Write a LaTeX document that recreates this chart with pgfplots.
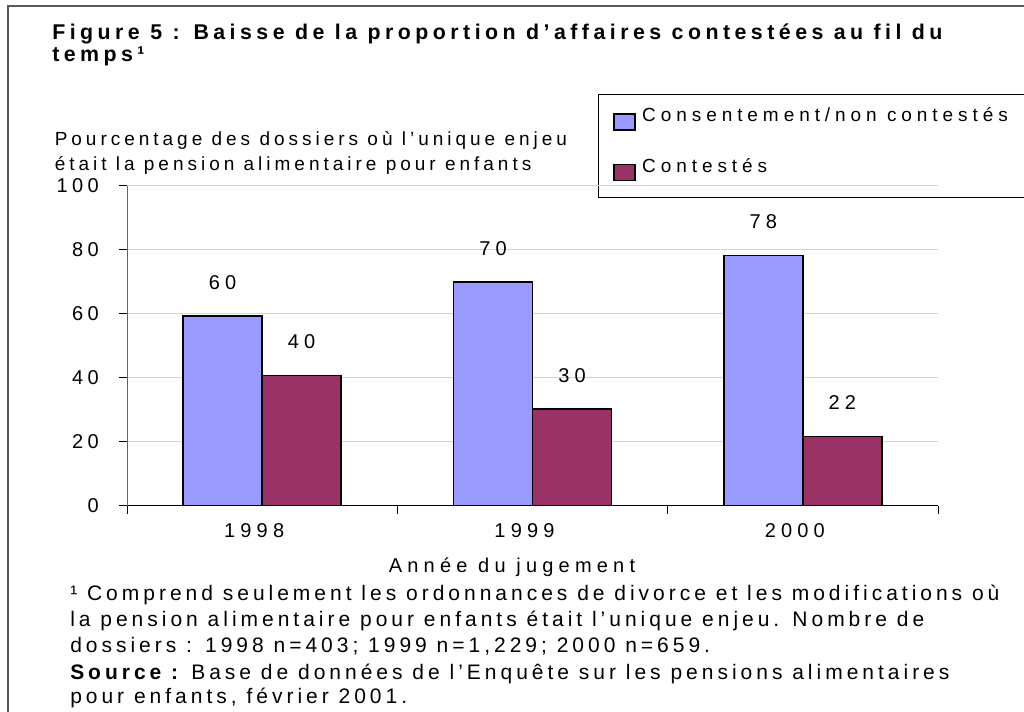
\documentclass[border=0pt]{standalone}
\usepackage{fontspec}
\setmainfont{Liberation Sans}
\newfontfamily\titlef[LetterSpace=21]{Liberation Sans}
\newfontfamily\legf[LetterSpace=26]{Liberation Sans}
\newfontfamily\tickf[LetterSpace=26]{Liberation Sans}
\newfontfamily\ytickf[LetterSpace=22]{Liberation Sans}
\newfontfamily\ylabf[LetterSpace=21]{Liberation Sans}
\newfontfamily\footf[LetterSpace=19]{Liberation Sans}
\usepackage{pgfplots}
\pgfplotsset{compat=1.18}
\definecolor{cblue}{RGB}{153,153,255}
\definecolor{cred}{RGB}{153,51,102}
\newcommand\ttl{\titlef\bfseries\fontsize{16}{16}\selectfont}
\newcommand\lgt{\legf\fontsize{14.25}{17}\selectfont}
\newcommand\tkt{\tickf\fontsize{15}{18}\selectfont}
\newcommand\ytkt{\ytickf\fontsize{15}{18}\selectfont}
\newcommand\ylt{\ylabf\fontsize{14.25}{18.75}\selectfont}
\newcommand\ftt{\footf\fontsize{15.75}{19.5}\selectfont}

\begin{document}
\begin{tikzpicture}[x=0.75pt,y=0.75pt]
\path[use as bounding box] (0,0) rectangle (1024,712);
% outer frame (left and top sides visible)
\draw[black!65, line width=1.1pt] (8,-5) -- (8,706) -- (1030,706);
% legend frame
\draw[black, line width=0.75pt] (1030,617) -- (598,617) -- (598,514) -- (1030,514);
% title
\node[anchor=base west, inner sep=0pt, font=\ttl] at (52,672) {Figure 5 : Baisse de la proportion d’affaires contestées au fil du};
\node[anchor=base west, inner sep=0pt, font=\ttl] at (52,650) {temps¹};

\begin{axis}[
  at={(95.25pt,154.725pt)}, anchor=south west,
  scale only axis, width=608.25pt, height=239.8pt,
  xmin=-0.5, xmax=2.5, ymin=0, ymax=100,
  clip=false,
  ybar=0pt, bar width=59.25pt,
  axis x line*=bottom, axis y line*=left,
  x axis line style={black, line width=0.75pt, -},
  y axis line style={black!60, line width=0.75pt, -},
  xtick={-0.5,0.5,1.5,2.5}, xticklabels={},
  extra x ticks={0,1,2}, extra x tick labels={1998,1999,2000},
  extra x tick style={major tick length=0pt,
    xticklabel style={anchor=base, yshift=-24pt, xshift=-6pt, font=\tkt}},
  ytick={0,20,40,60,80,100},
  ymajorgrids, grid style={black!17, line width=0.75pt},
  tick align=outside, major tick length=6pt,
  tick style={black, line width=0.75pt},
  yticklabel style={anchor=east, inner sep=0pt, xshift=-15pt, font=\ytkt},
  /pgf/number format/assume math mode=true,
  every axis x label/.style={at={(axis description cs:0.4747,0)}, anchor=base, yshift=-50.25pt, font=\tkt},
  every axis y label/.style={at={(axis description cs:-0.0949,1.047)}, anchor=base west, align=left, font=\ylt},
  xlabel={Année du jugement},
  ylabel={Pourcentage des dossiers où l’unique enjeu\\était la pension alimentaire pour enfants},
  legend style={at={(axis description cs:0.5993,1.244)}, anchor=north west,
    draw=none, fill=none, inner sep=0pt, outer sep=0pt,
    row sep=21pt, font=\lgt,
    nodes={inner sep=0pt, text height=10.5pt, text depth=3pt},
    /tikz/every odd column/.append style={column sep=5pt}},
  legend cell align=left,
  point meta=explicit symbolic,
  nodes near coords,
  every node near coord/.append style={font=\tkt, anchor=base, inner sep=0pt, yshift=20.25pt, text=black},
]
\addplot[fill=cblue, draw=black, line width=1.1pt,
  legend image code/.code={\draw[fill=cblue, draw=black, line width=1.1pt] (0pt,-9.75pt) rectangle (15.75pt,2.25pt);}]
  coordinates {(0,59.3) [60] (1,69.9) [70] (2,78.3) [78]};
\addlegendentry{Consentement/non contestés}
\addplot[fill=cred, draw=black, line width=1.1pt,
  legend image code/.code={\draw[fill=cred, draw=black, line width=1.1pt] (0pt,-9.75pt) rectangle (15.75pt,2.25pt);}]
  coordinates {(0,40.8) [40] (1,30.2) [30] (2,21.7) [22]};
\addlegendentry{Contestés}
\end{axis}

% footnote
\node[anchor=base west, inner sep=0pt, font=\ftt] at (70,111) {¹ Comprend seulement les ordonnances de divorce et les modifications où};
\node[anchor=base west, inner sep=0pt, font=\ftt] at (70,85) {la pension alimentaire pour enfants était l’unique enjeu. Nombre de};
\node[anchor=base west, inner sep=0pt, font=\ftt] at (70,59) {dossiers : 1998 n=403; 1999 n=1,229; 2000 n=659.};
\node[anchor=base west, inner sep=0pt, font=\ftt] at (70,32) {{\bfseries Source :} Base de données de l’Enquête sur les pensions alimentaires};
\node[anchor=base west, inner sep=0pt, font=\ftt] at (70,8) {pour enfants, février 2001.};
\end{tikzpicture}
\end{document}
